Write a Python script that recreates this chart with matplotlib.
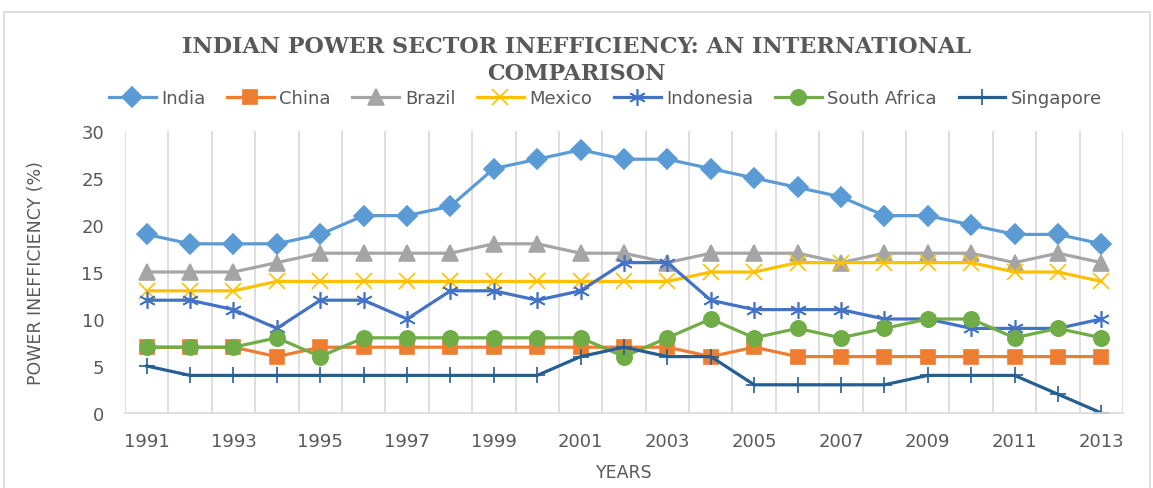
import matplotlib.pyplot as plt
from matplotlib.patches import Rectangle

years = list(range(1991, 2014))
india = [19, 18, 18, 18, 19, 21, 21, 22, 26, 27, 28, 27, 27, 26, 25, 24, 23, 21, 21, 20, 19, 19, 18]
china = [7, 7, 7, 6, 7, 7, 7, 7, 7, 7, 7, 7, 7, 6, 7, 6, 6, 6, 6, 6, 6, 6, 6]
brazil = [15, 15, 15, 16, 17, 17, 17, 17, 18, 18, 17, 17, 16, 17, 17, 17, 16, 17, 17, 17, 16, 17, 16]
mexico = [13, 13, 13, 14, 14, 14, 14, 14, 14, 14, 14, 14, 14, 15, 15, 16, 16, 16, 16, 16, 15, 15, 14]
indonesia = [12, 12, 11, 9, 12, 12, 10, 13, 13, 12, 13, 16, 16, 12, 11, 11, 11, 10, 10, 9, 9, 9, 10]
south_africa = [7, 7, 7, 8, 6, 8, 8, 8, 8, 8, 8, 6, 8, 10, 8, 9, 8, 9, 10, 10, 8, 9, 8]
singapore = [5, 4, 4, 4, 4, 4, 4, 4, 4, 4, 6, 7, 6, 6, 3, 3, 3, 3, 4, 4, 4, 2, 0]

series = [
    ("India", india, "#5B9BD5", "D", 10),
    ("China", china, "#ED7D31", "s", 10),
    ("Brazil", brazil, "#A5A5A5", "^", 11),
    ("Mexico", mexico, "#FFC000", "x", 11),
    ("Indonesia", indonesia, "#4472C4", (6, 2, 0), 12),
    ("South Africa", south_africa, "#70AD47", "o", 11),
    ("Singapore", singapore, "#255E91", "+", 11),
]

txt = "#595959"
fig = plt.figure(figsize=(11.53, 4.89), dpi=100)
ax = fig.add_axes([0.1084, 0.1534, 0.8656, 0.5766])

x = list(range(len(years)))
for name, vals, col, mk, ms in series:
    ax.plot(x, vals, color=col, lw=2.3, marker=mk, markersize=ms,
            markeredgewidth=1.2, label=name)

ax.set_xlim(-0.5, len(years) - 0.5)
ax.set_ylim(0, 30)
ax.set_yticks(range(0, 31, 5))
ax.set_xticks(x[::2])
ax.set_xticklabels([str(y) for y in years[::2]])
ax.set_xticks([i + 0.5 for i in range(-1, len(years))], minor=True)
ax.grid(True, which="minor", axis="x", color="#D9D9D9", lw=1.2)
ax.tick_params(which="both", length=0, labelsize=13, labelcolor=txt)
ax.tick_params(axis="y", pad=15)
ax.tick_params(axis="x", pad=14)
for s in ["top", "right", "left"]:
    ax.spines[s].set_visible(False)
ax.spines["bottom"].set_color("#D9D9D9")
ax.spines["bottom"].set_linewidth(1.2)

ax.set_ylabel("POWER INEFFICIENCY (%)", fontsize=12.5, color=txt, labelpad=26)
ax.set_xlabel("YEARS", fontsize=12.5, color=txt, labelpad=9)

fig.text(0.5, 0.877, "INDIAN POWER SECTOR INEFFICIENCY: AN INTERNATIONAL\nCOMPARISON",
         ha="center", va="center", fontsize=16, fontweight="bold",
         family="DejaVu Serif", color=txt, linespacing=1.3)

fig.legend(loc="center", bbox_to_anchor=(0.525, 0.797), ncol=7, frameon=False,
           fontsize=13, labelcolor=txt, handlelength=2.6, handletextpad=0.3,
           columnspacing=1.2, borderpad=0)

fig.patches.append(Rectangle((4 / 1153, -0.1), 1146 / 1153, 1 - 13 / 489 + 0.1,
                             transform=fig.transFigure, fill=False,
                             edgecolor="#D9D9D9", lw=1.2))

fig.savefig("out.png", dpi=100)
